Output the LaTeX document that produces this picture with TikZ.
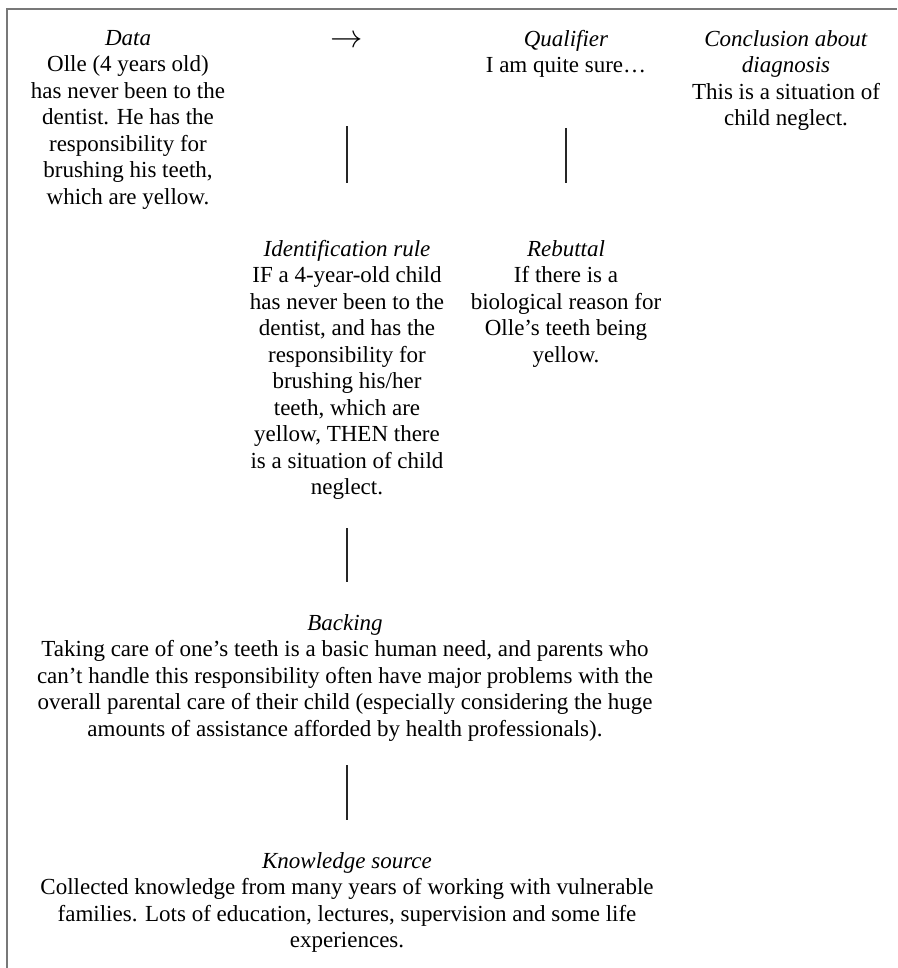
\documentclass[tikz,border=0pt]{standalone}
\usepackage{fontspec}
\setmainfont{Liberation Serif}
\usetikzlibrary{positioning}
\definecolor{framegray}{RGB}{120,120,120}
\tikzstyle{block}=[align=center, inner sep=0pt, anchor=north, font=\fontsize{23}{26.5}\selectfont]
\tikzstyle{link}=[draw=black!85, line width=1.2pt]
\tikzstyle{frame}=[draw=framegray, line width=1.5pt]

\begin{document}
\begin{tikzpicture}[x=1pt, y=-1pt]
            \useasboundingbox (0,0) rectangle (897,968);
            %frame, only top and left edges are visible
            \draw[frame] (7,968) -- (7,9) -- (897,9);
            %top row
            \node[block] (data) at (128,30) {\textit{Data}\\Olle (4 years old)\\has never been to the\\dentist. He has the\\responsibility for\\brushing his teeth,\\which are yellow.};
            \node[block, anchor=center] (arrow) at (347,42) {\scalebox{1.3}{$\rightarrow$}};
            \node[block] (qualifier) at (566,30) {\textit{Qualifier}\\I am quite sure…};
            \node[block] (conclusion) at (786,30) {\textit{Conclusion about}\\\textit{diagnosis}\\This is a situation of\\child neglect.};
            %second row
            \node[block] (rule) at (347,240) {\textit{Identification rule}\\IF a 4-year-old child\\has never been to the\\dentist, and has the\\responsibility for\\brushing his/her\\teeth, which are\\yellow, THEN there\\is a situation of child\\neglect.};
            \node[block] (rebuttal) at (566,240) {\textit{Rebuttal}\\If there is a\\biological reason for\\Olle’s teeth being\\yellow.};
            %lower rows
            \node[block] (backing) at (345,614) {\textit{Backing}\\Taking care of one’s teeth is a basic human need, and parents who\\can’t handle this responsibility often have major problems with the\\overall parental care of their child (especially considering the huge\\amounts of assistance afforded by health professionals).};
            \node[block] (source) at (347,852) {\textit{Knowledge source}\\Collected knowledge from many years of working with vulnerable\\families. Lots of education, lectures, supervision and some life\\experiences.};
            %connectors
            \draw[link, shorten <=78pt, shorten >=57pt] (arrow.south) -- (rule.north);
            \draw[link, shorten <=50pt, shorten >=57pt] (qualifier.south) -- (rebuttal.north);
            \draw[link, shorten <=28pt, shorten >=32pt] (rule.south) -- (backing.north -| rule.south);
            \draw[link, shorten <=24pt, shorten >=32pt] (backing.south -| source.north) -- (source.north);
\end{tikzpicture}
\end{document}
